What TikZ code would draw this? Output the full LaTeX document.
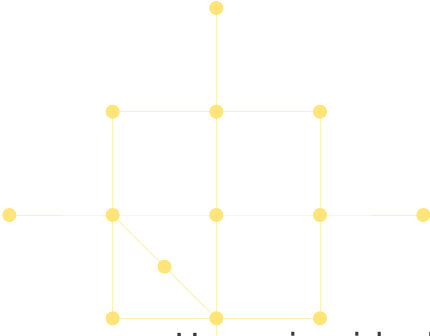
\documentclass[tikz,border=0pt]{standalone}
\usepackage{fontspec}
\newfontfamily\captionfont{DejaVu Sans}
\definecolor{nodefill}{HTML}{FFE47A}
\definecolor{edgecol}{HTML}{FFF0B4}
\definecolor{textcol}{HTML}{3A3A44}
\begin{document}
\begin{tikzpicture}[x=1pt,y=-1pt,
  dot/.style={circle,fill=nodefill,draw=none,minimum size=14pt,inner sep=0pt},
  link/.style={draw=edgecol,line width=1pt},
  caption/.style={anchor=base west,inner sep=0pt,text=textcol,font=\captionfont\fontsize{34.5}{40}\selectfont}]
\useasboundingbox (0,0) rectangle (430,335);
% edges first (under nodes)
\coordinate (t)  at (216.3,8);
\coordinate (a1) at (112.7,111.7);
\coordinate (a2) at (216.3,111.7);
\coordinate (a3) at (320,111.7);
\coordinate (b0) at (9.3,215);
\coordinate (b1) at (112.7,215);
\coordinate (b2) at (216.3,215);
\coordinate (b3) at (320,215);
\coordinate (b4) at (423.3,215);
\coordinate (m)  at (164.5,266.7);
\coordinate (c1) at (112.7,318.3);
\coordinate (c2) at (216.3,318.3);
\coordinate (c3) at (320,318.3);
\coordinate (down) at (216.3,380);
\draw[link] (t) -- (a2);
\draw[link] (a1) -- (a2) -- (a3);
\draw[link] (a1) -- (b1);
\draw[link] (a2) -- (b2);
\draw[link] (a3) -- (b3);
\draw[link] (b0) -- (b1) -- (b2) -- (b3) -- (b4);
\draw[link] (b1) -- (c1);
\draw[link] (b1) -- (m) -- (c2);
\draw[link] (b2) -- (c2);
\draw[link] (b3) -- (c3);
\draw[link] (c1) -- (c2) -- (c3);
\draw[link] (c2) -- (down);
% nodes
\foreach \p in {t,a1,a2,a3,b0,b1,b2,b3,b4,m,c1,c2,c3}
  \node[dot] (n\p) at (\p) {};
\node[caption] (label) at (174,358) {Hamming ideal};
\end{tikzpicture}
\end{document}
